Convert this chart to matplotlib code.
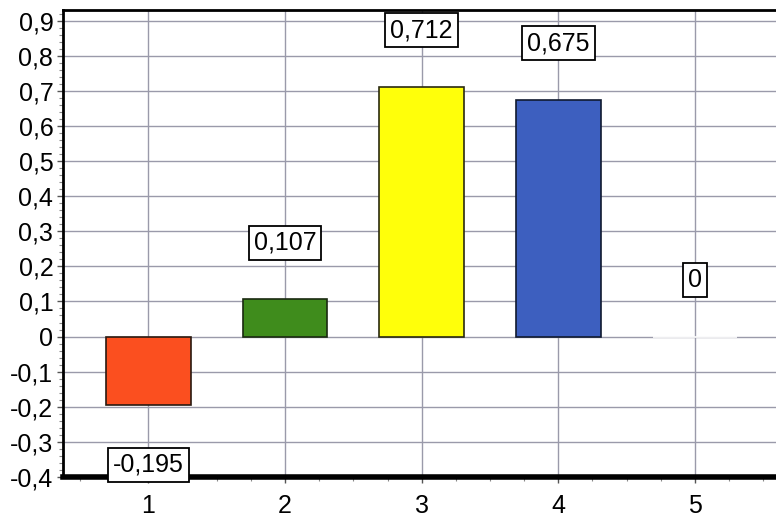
import matplotlib
matplotlib.use("Agg")
import matplotlib.pyplot as plt
from matplotlib.ticker import MultipleLocator, FuncFormatter

plt.rcParams['font.family'] = ['Liberation Sans', 'DejaVu Sans']

categories = [1, 2, 3, 4, 5]
values = [-0.195, 0.107, 0.712, 0.675, 0.0]
bar_colors = ['#fb4f1f', '#3f8c1c', '#ffff0a', '#3d5fbf', '#ffffff']
edge_colors = ['#2a1a10', '#1a2a10', '#2a2a10', '#101a30', '#ffffff']

fig = plt.figure(figsize=(7.76, 5.17), dpi=100)
ax = fig.add_axes([63 / 776, 1 - 477 / 517, 1 - 63 / 776 + 0.01, (477 - 10) / 517])

ax.bar(categories, values, width=0.62, color=bar_colors, edgecolor=edge_colors,
       linewidth=1.2, zorder=3)

def comma(v, pos=None):
    s = f"{v:.1f}" if abs(v) > 1e-9 else "0"
    return s.replace('.', ',')

for x, v in zip(categories, values):
    off = 0.16 if v >= 0 else -0.17
    txt = f"{v:g}".replace('.', ',')
    ax.text(x, v + off, txt, ha='center', va='center', fontsize=18, zorder=5,
            bbox=dict(boxstyle='square,pad=0.2', facecolor='white',
                      edgecolor='black', linewidth=1.3))

ax.set_xlim(0.375, 5.65)
ax.set_ylim(-0.4, 0.93)

ax.xaxis.set_major_locator(MultipleLocator(1))
ax.xaxis.set_minor_locator(MultipleLocator(0.25))
ax.yaxis.set_major_locator(MultipleLocator(0.1))
ax.yaxis.set_minor_locator(MultipleLocator(0.02))
ax.yaxis.set_major_formatter(FuncFormatter(comma))
ax.xaxis.set_major_formatter(FuncFormatter(lambda v, p: f"{int(round(v))}"))

ax.grid(True, which='major', color='#9a9aaa', linewidth=1.0, zorder=0)
ax.set_axisbelow(True)

ax.tick_params(axis='both', which='major', labelsize=18, length=4, width=1,
               direction='out', color='#555555')
ax.tick_params(axis='both', which='minor', length=3, width=0.8,
               direction='out', color='#888888')
ax.tick_params(axis='y', pad=3)
ax.tick_params(axis='x', pad=8)

ax.spines['right'].set_visible(False)
ax.spines['left'].set_linewidth(2)
ax.spines['top'].set_linewidth(2)
ax.spines['bottom'].set_linewidth(4)
for s in ax.spines.values():
    s.set_color('black')

fig.savefig('out.png', dpi=100)
